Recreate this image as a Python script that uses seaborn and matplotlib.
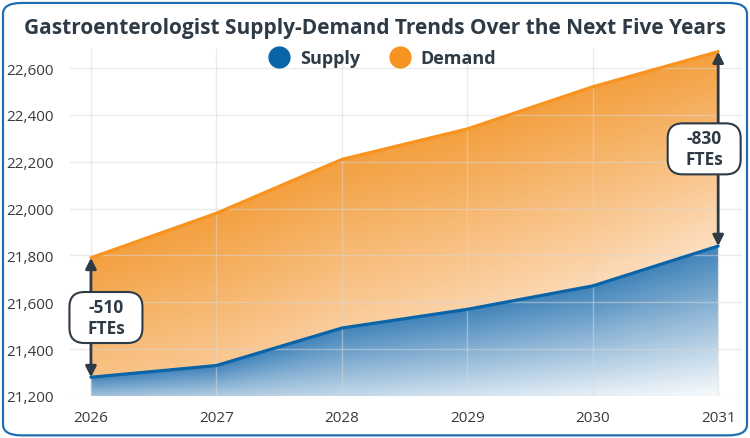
import matplotlib
matplotlib.use("Agg")
import matplotlib.pyplot as plt
import seaborn as sns
import numpy as np
import pandas as pd
from matplotlib.patches import FancyBboxPatch
from matplotlib.lines import Line2D
from matplotlib.colors import to_rgba

years = [2026, 2027, 2028, 2029, 2030, 2031]
supply = [21280, 21330, 21490, 21570, 21670, 21840]
demand = [21790, 21980, 22210, 22340, 22520, 22670]
y_ticks = [21200, 21400, 21600, 21800, 22000, 22200, 22400, 22600]
gaps = ["-510\nFTEs", "-830\nFTEs"]

blue = "#0b64a8"
orange = "#f7931e"
dark = "#2e3a45"

sns.set_style("whitegrid")
plt.rcParams["font.family"] = ["Open Sans", "DejaVu Sans"]

df = pd.DataFrame({"year": years * 2,
                   "value": supply + demand,
                   "series": ["Supply"] * 6 + ["Demand"] * 6})

fig = plt.figure(figsize=(7.5, 4.39), dpi=100)
ax = fig.add_axes([70 / 750, 0.0957, 672 / 750, 0.7897])
x0, x1 = 2025.833, 2031.19
ymin, ymax = 21200, 22680
ax.set_xlim(x0, x1)
ax.set_ylim(ymin, ymax)


def gradient_img(top, bottom, c0, c1, t_left, t_right):
    # colour runs from the upper line down to the lower one, paler to the right
    xs = np.linspace(x0, x1, 300)
    ys = np.linspace(ymin, ymax, 300)
    X, Y = np.meshgrid(xs, ys)
    hi = np.interp(X, years, top)
    lo = np.interp(X, years, bottom)
    frac = np.clip((hi - Y) / np.maximum(hi - lo, 1), 0, 1)
    u = np.clip((X - 2026) / 5, 0, 1)
    t = 0.08 + frac * (t_left + (t_right - t_left) * u - 0.08)
    a, b = np.array(to_rgba(c0)), np.array(to_rgba(c1))
    return a * (1 - t[..., None]) + b * t[..., None]


poly_d = ax.fill_between(years, supply, demand, facecolor="none", edgecolor="none")
im_d = ax.imshow(gradient_img(demand, supply, "#f29a33", "#fee3c9", 0.55, 0.95),
                 extent=[x0, x1, ymin, ymax], origin="lower", aspect="auto", zorder=1)
im_d.set_clip_path(poly_d.get_paths()[0], ax.transData)

poly_s = ax.fill_between(years, ymin, supply, facecolor="none", edgecolor="none")
im_s = ax.imshow(gradient_img(supply, [ymin] * 6, "#3078b3", "#f8fbfd", 0.55, 1.0),
                 extent=[x0, x1, ymin, ymax], origin="lower", aspect="auto", zorder=1)
im_s.set_clip_path(poly_s.get_paths()[0], ax.transData)

ax.set_xticks(years)
ax.set_yticks(y_ticks)
ax.set_yticklabels([f"{v:,}" for v in y_ticks])
ax.grid(True, color="#d8d8d8", lw=1, alpha=0.5, zorder=2)
ax.set_axisbelow(False)

sns.lineplot(data=df, x="year", y="value", hue="series",
             palette={"Supply": blue, "Demand": orange},
             linewidth=2.3, legend=False, ax=ax, zorder=3)

# gap arrows + rounded labels (box nudged towards the plot centre)
px_x = (x1 - x0) / (672)
px_y = (ymax - ymin) / (0.7897 * 439)
box_w, box_h = 73 * px_x, 51 * px_y
for i, lab, nudge in zip([0, 5], gaps, [15, -14]):
    x = years[i]
    ax.annotate("", xy=(x, demand[i]), xytext=(x, supply[i]),
                arrowprops=dict(arrowstyle="<|-|>", color=dark, lw=2,
                                mutation_scale=16, shrinkA=0, shrinkB=0),
                zorder=4, annotation_clip=False)
    cx = x + nudge * px_x
    cy = (supply[i] + demand[i]) / 2
    box = FancyBboxPatch((cx - box_w / 2, cy - box_h / 2), box_w, box_h,
                         boxstyle=f"round,pad=0,rounding_size={15 * px_x}",
                         mutation_aspect=px_y / px_x, fc="white", ec=dark, lw=1.5,
                         zorder=5, clip_on=False)
    ax.add_patch(box)
    ax.text(cx, cy, lab, ha="center", va="center", fontsize=12.5, fontweight="bold",
            color=dark, linespacing=1.2, zorder=6)

ax.tick_params(axis="both", labelsize=11, colors="#3a3a3a", length=0)
ax.tick_params(axis="y", pad=12)
ax.tick_params(axis="x", pad=10)
ax.set_xlabel("")
ax.set_ylabel("")
for s in ax.spines.values():
    s.set_visible(False)

fig.text(0.5, 0.936, "Gastroenterologist Supply-Demand Trends Over the Next Five Years",
         ha="center", va="center", fontsize=15, fontweight="bold", color=dark)

handles = [Line2D([], [], marker="o", ls="", markersize=15, color=blue),
           Line2D([], [], marker="o", ls="", markersize=15, color=orange)]
leg = fig.legend(handles, ["Supply", "Demand"], loc="center", bbox_to_anchor=(0.505, 0.866),
                 ncol=2, frameon=False, handletextpad=0.15, columnspacing=1.2,
                 prop={"size": 13, "weight": "bold"})
for t in leg.get_texts():
    t.set_color(dark)

border = FancyBboxPatch((0.004, 0.006), 0.992, 0.985, boxstyle="round,pad=0,rounding_size=0.025",
                        transform=fig.transFigure, fc="none", ec="#1f6fb2", lw=1.6)
fig.patches.append(border)

fig.savefig("out.png", dpi=100)
